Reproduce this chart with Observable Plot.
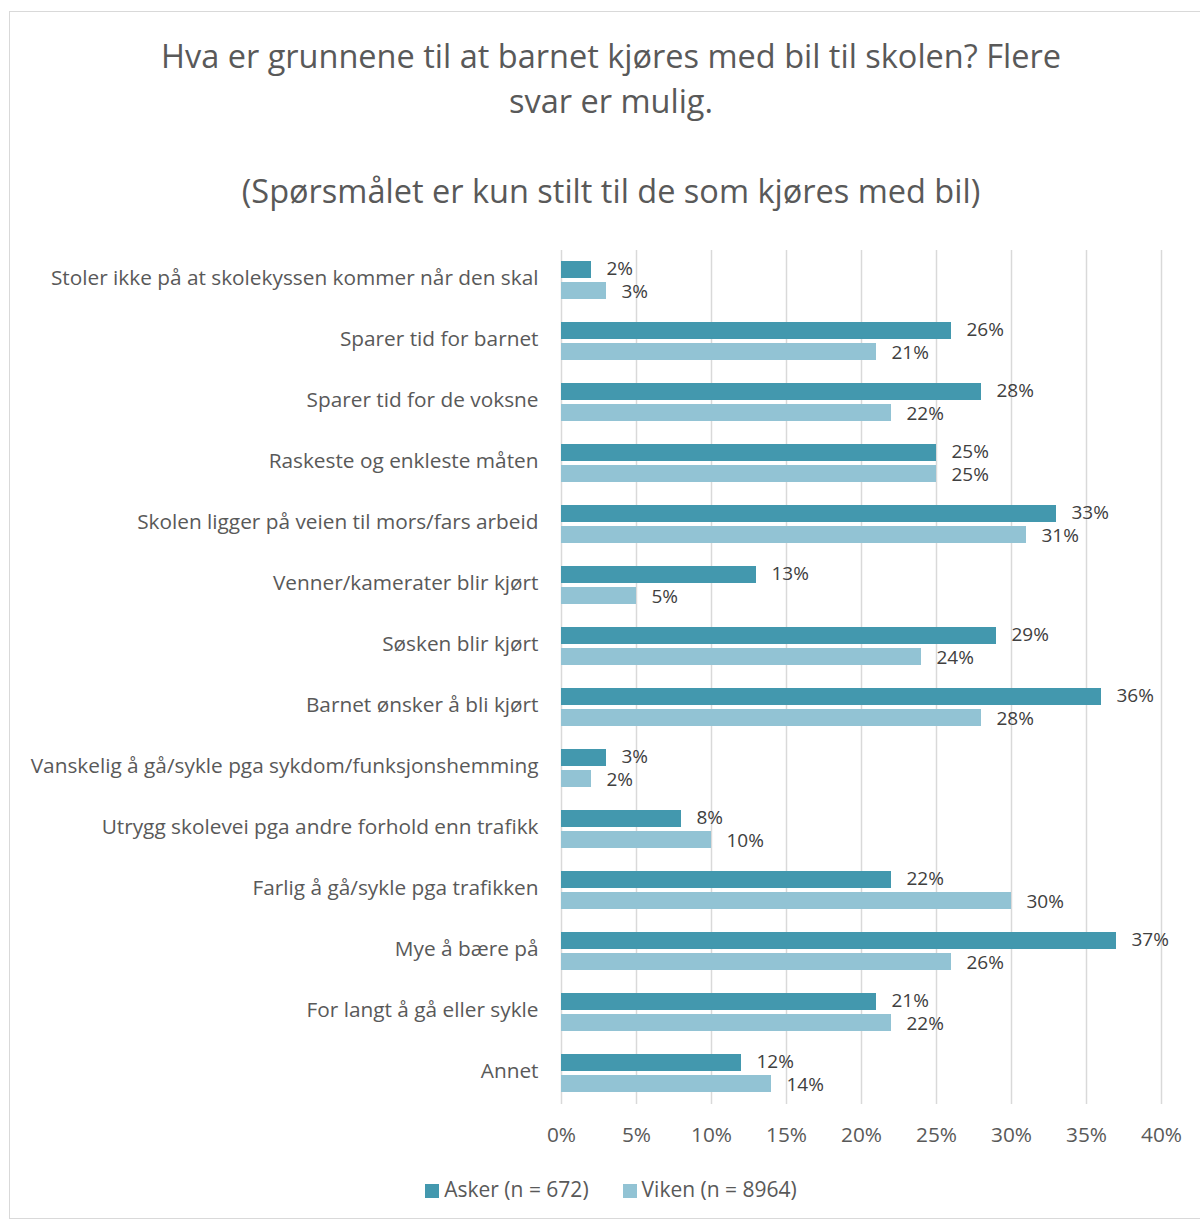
<!DOCTYPE html>
<html>
<head>
<meta charset="utf-8">
<script src="https://cdn.jsdelivr.net/npm/d3@7"></script>
<script src="https://cdn.jsdelivr.net/npm/@observablehq/plot@0.6"></script>
<style>
  body { margin:0; background:#fff; font-family: "Open Sans", Lato, sans-serif; }
  #frame { position:absolute; left:9px; top:11px; width:1204px; height:1208px; border:1px solid #d9d9d9; box-sizing:border-box; }
  .title { position:absolute; left:9px; width:1204px; text-align:center; color:#595959; font-size:32.5px; line-height:45px; }
  #plot { position:absolute; left:0; top:240px; }
  #legend { position:absolute; left:9px; width:1204px; top:1175px; display:flex; justify-content:center; gap:34px; color:#595959; font-size:21px; }
  #legend span.sw { display:inline-block; width:14px; height:14px; margin-right:5px; vertical-align:-1px; }
</style>
</head>
<body>
<div id="frame"></div>
<div class="title" style="top:33px">Hva er grunnene til at barnet kjøres med bil til skolen? Flere<br>svar er mulig.</div>
<div class="title" style="top:168px">(Spørsmålet er kun stilt til de som kjøres med bil)</div>
<div id="plot"></div>
<div id="legend"></div>
<script>
const categories = [
  "Stoler ikke på at skolekyssen kommer når den skal",
  "Sparer tid for barnet",
  "Sparer tid for de voksne",
  "Raskeste og enkleste måten",
  "Skolen ligger på veien til mors/fars arbeid",
  "Venner/kamerater blir kjørt",
  "Søsken blir kjørt",
  "Barnet ønsker å bli kjørt",
  "Vanskelig å gå/sykle pga sykdom/funksjonshemming",
  "Utrygg skolevei pga andre forhold enn trafikk",
  "Farlig å gå/sykle pga trafikken",
  "Mye å bære på",
  "For langt å gå eller sykle",
  "Annet"
];
const seriesNames = ["Asker (n = 672)", "Viken (n = 8964)"];
const asker = [2, 26, 28, 25, 33, 13, 29, 36, 3, 8, 22, 37, 21, 12];
const viken = [3, 21, 22, 25, 31, 5, 24, 28, 2, 10, 30, 26, 22, 14];
const xTicks = [0, 5, 10, 15, 20, 25, 30, 35, 40];
const colors = ["#4398ae", "#92c3d4"];

const data = categories.flatMap((c, i) => [
  {cat: c, series: seriesNames[0], value: asker[i]},
  {cat: c, series: seriesNames[1], value: viken[i]}
]);

const labelOpts = {x: "value", y: "series", fy: "cat", text: d => d.value + "%", textAnchor: "start", dx: 15, fill: "#404040", fontSize: 19};

const chart = Plot.plot({
  width: 1200,
  height: 920,
  marginLeft: 561,
  marginRight: 39,
  marginTop: 7,
  marginBottom: 54,
  style: {fontFamily: "'Open Sans', Lato, sans-serif", fontSize: "20.8px", color: "#595959", background: "transparent", overflow: "visible"},
  x: {domain: [0, 40], ticks: xTicks, tickFormat: d => d + "%", tickSize: 0, tickPadding: 23, label: null},
  fy: {domain: categories, padding: 0, axis: null},
  y: {domain: seriesNames, axis: null, paddingInner: 0.169, paddingOuter: 0.525},
  color: {domain: seriesNames, range: colors},
  marks: [
    Plot.ruleX(xTicks, {stroke: "#d9d9d9", strokeWidth: 1.5}),
    Plot.barX(data, {x: "value", y: "series", fy: "cat", fill: "series"}),
    Plot.text(data.filter(d => d.series === seriesNames[0]), {...labelOpts, dy: -1}),
    Plot.text(data.filter(d => d.series === seriesNames[1]), {...labelOpts, dy: 1}),
    Plot.text(categories, {fy: d => d, text: d => d, frameAnchor: "left", textAnchor: "end", dx: -23, dy: -3, fill: "#595959", fontSize: 20.8})
  ]
});
document.getElementById("plot").appendChild(chart);

const legend = document.getElementById("legend");
seriesNames.forEach((s, i) => {
  const item = document.createElement("div");
  item.innerHTML = `<span class="sw" style="background:${colors[i]}"></span>${s}`;
  legend.appendChild(item);
});
</script>
</body>
</html>
